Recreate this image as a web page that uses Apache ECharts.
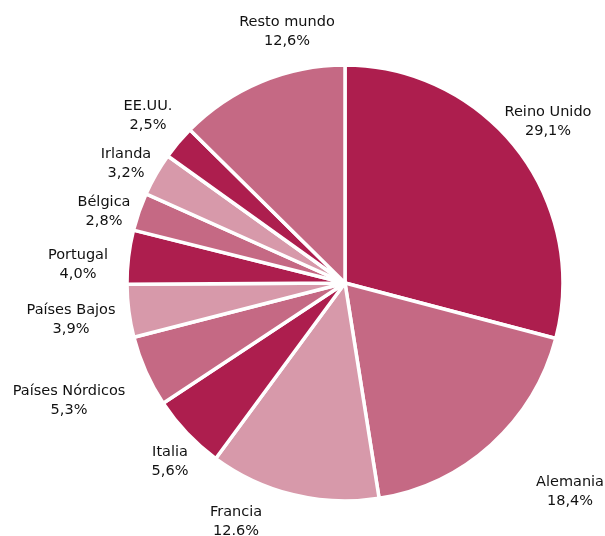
<!DOCTYPE html>
<html>
<head>
<meta charset="utf-8">
<script src="https://cdn.jsdelivr.net/npm/echarts@6/dist/echarts.min.js"></script>
<style>
  html, body { margin: 0; padding: 0; background: #fff; }
  #chart { width: 605px; height: 536px; }
</style>
</head>
<body>
<div id="chart"></div>
<script>
const names = ['Reino Unido', 'Alemania', 'Francia', 'Italia', 'Países Nórdicos', 'Países Bajos',
  'Portugal', 'Bélgica', 'Irlanda', 'EE.UU.', 'Resto mundo'];
const values = [29.1, 18.4, 12.6, 5.6, 5.3, 3.9, 4.0, 2.8, 3.2, 2.5, 12.6];
const labelsPct = ['29,1%', '18,4%', '12.6%', '5,6%', '5,3%', '3,9%', '4,0%', '2,8%', '3,2%', '2,5%', '12,6%'];

const dark = '#ad1e4e';
const mid = '#c56984';
const light = '#d799aa';
const colors = [dark, mid, light, dark, mid, light, dark, mid, light, dark, mid];

// where each label block is centred (labels were placed by hand in the original)
const labelAt = [
  [548, 122], [570, 492], [236, 522], [170, 462], [69, 401], [71, 320],
  [78, 265], [104, 212], [126, 164], [148, 116], [287, 32]
];

const chart = echarts.init(document.getElementById('chart'));

const option = {
  animation: false,
  series: [
    {
      type: 'pie',
      center: [345, 283],
      radius: 218,
      startAngle: 90,
      clockwise: true,
      avoidLabelOverlap: false,
      itemStyle: {
        borderColor: '#fff',
        borderWidth: 3.5
      },
      label: {
        show: true,
        position: 'inner',
        fontFamily: "'DejaVu Sans', Verdana, sans-serif",
        fontSize: 14.5,
        lineHeight: 19,
        color: '#111',
        formatter: p => p.name + '\n' + labelsPct[p.dataIndex]
      },
      labelLine: { show: false },
      labelLayout: function (params) {
        const p = labelAt[params.dataIndex];
        return {
          x: p[0],
          y: p[1],
          align: 'center',
          verticalAlign: 'middle',
          rotate: 0,
          hideOverlap: false
        };
      },
      data: names.map((n, i) => ({
        name: n,
        value: values[i],
        itemStyle: { color: colors[i] }
      }))
    }
  ]
};
chart.setOption(option);
</script>
</body>
</html>
